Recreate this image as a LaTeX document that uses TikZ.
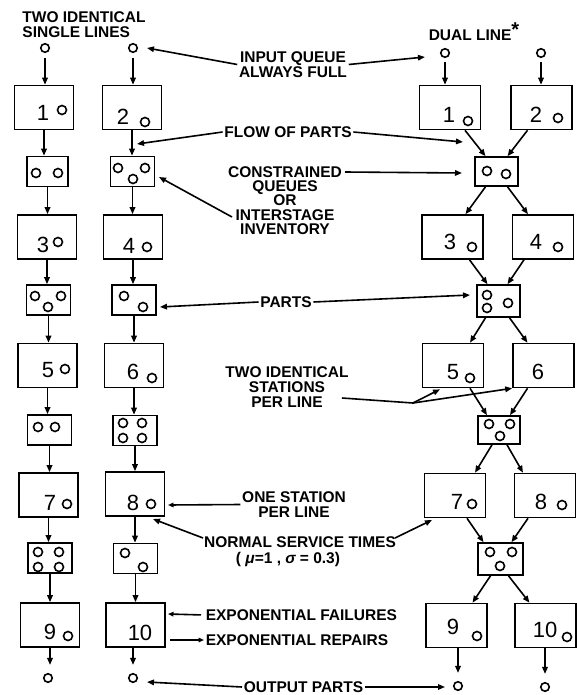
\documentclass[tikz,border=0pt]{standalone}
\usepackage{fontspec}
\setmainfont{Liberation Sans}
\usetikzlibrary{arrows.meta,calc}
\begin{document}
\begin{tikzpicture}[x=1pt,y=-1pt,line width=1.6pt,
  box/.style={draw,minimum width=59pt,minimum height=44pt,inner sep=0},
  dbox/.style={box,minimum width=61pt},
  que/.style={draw,minimum width=44pt,minimum height=30pt,inner sep=0},
  pc/.style={circle,draw,minimum size=8.5pt,inner sep=0},
  arr/.style={-{Triangle[length=7pt,width=5.5pt]}},
  sarr/.style={-{Triangle[length=5.5pt,width=4.5pt]}},
  lab/.style={font=\bfseries\fontsize{15.5}{15}\selectfont,align=center,inner sep=1pt},
  num/.style={font=\fontsize{22}{22}\selectfont,inner sep=0}]
\useasboundingbox (0,0) rectangle (577,695);

% ---------- single lines: stations ----------
\node[box] (s1) at (44,107.5) {};
\node[box] (s2) at (132,107.5) {};
\node[box] (s3) at (47,237) {};
\node[box] (s4) at (133,237) {};
\node[box] (s5) at (47.5,365.5) {};
\node[box] (s6) at (134,365.5) {};
\node[box] (s7) at (48.5,495) {};
\node[box] (s8) at (135,494) {};
\node[box] (s9) at (50,625) {};
\node[box] (s10) at (135.5,625) {};
% queues
\node[que,minimum width=41pt] (sq1) at (47.5,171.5) {};
\node[que] (sq2) at (132.5,171.5) {};
\node[que] (sq3) at (48.5,300) {};
\node[que] (sq4) at (134,300) {};
\node[que] (sq5) at (49.5,430) {};
\node[que] (sq6) at (135,430.5) {};
\node[que] (sq7) at (50,558) {};
\node[que] (sq8) at (135.5,558.5) {};
% inputs / outputs
\node[pc] (in1) at (45,48) {};
\node[pc] (in2) at (133,48) {};
\node[pc] (out1) at (48,678) {};
\node[pc] (out2) at (133,678) {};

% ---------- dual line ----------
\node[dbox] (d1) at (450,107.5) {};
\node[dbox] (d2) at (541.5,107.5) {};
\node[dbox] (d3) at (452.5,237) {};
\node[dbox] (d4) at (543,237) {};
\node[dbox] (d5) at (453,365.5) {};
\node[dbox] (d6) at (543.5,365.5) {};
\node[dbox] (d7) at (455,495.5) {};
\node[dbox] (d8) at (545,495.5) {};
\node[dbox] (d9) at (456.5,625.5) {};
\node[dbox] (d10) at (545.5,625.5) {};
\node[que,minimum width=43pt,minimum height=29pt] (dq1) at (496.5,171.5) {};
\node[que,minimum width=43pt,minimum height=32pt] (dq2) at (498.5,301) {};
\node[que,minimum width=42pt,minimum height=28pt] (dq3) at (499,430) {};
\node[que,minimum width=45pt,minimum height=32pt] (dq4) at (500.5,559) {};
\node[pc] (din1) at (445,53) {};
\node[pc] (din2) at (541,53) {};
\node[pc] (dout1) at (458,686) {};
\node[pc] (dout2) at (545,687) {};

% ---------- numbers and parts in stations ----------
\foreach \t/\x/\y in {1/43/113,3/43/245,5/48/370,7/50/503,9/50/632,
  2/123/117,4/129/246,6/133/372,8/133/503,10/140/633,
  1/449/115,2/536/115,3/450/242,4/536/242,5/453/372,6/538/372,
  7/457/502,8/541/502,9/453/627,10/545/630}
  \node[num] at (\x,\y) {\t};
\foreach \x/\y in {62/110,58/242,65/369,67/504,68/636,
  145/122,147/247,152/378,151/504,
  468/121,558/118,472/247,558/247,470/378,472/504,562/505,477/636,567/637,
  36/173,58/173, 118/168,145/168,133/179,
  35/296,61/296,48/307, 124/296,143/307,
  38/427,55/427, 123/423,142/423,123/438,142/438,
  38/552,59/552,38/567,59/567, 125/553,143/567,
  487/171,506/174, 487/295,487/308,508/303,
  489/424,510/424,500/436, 490/552,512/552,500/566}
  \draw (\x,\y) circle[radius=4.5pt];

% ---------- single line flow ----------
\draw[arr,shorten <=5pt] (in1) -- (in1 |- s1.north);
\draw[arr,shorten <=5pt] (in2) -- (in2 |- s2.north);
\foreach \a/\b in {s1/sq1,sq1/s3,s3/sq3,sq3/s5,s5/sq5,sq5/s7,s7/sq7,sq7/s9,
                   s2/sq2,sq2/s4,s4/sq4,sq4/s6,s6/sq6,sq6/s8,s8/sq8,sq8/s10}
  \draw[arr] (\a.south) -- (\a.south |- \b.north);
\draw[arr,shorten >=8pt] (s9.south) -- (s9.south |- out1.north);
\draw[arr,shorten >=8pt] (s10.south -| out2) -- (out2.north);

% ---------- dual line flow ----------
\draw[arr,shorten <=4pt] (din1) -- (din1 |- d1.north);
\draw[arr,shorten <=4pt] (din2) -- (din2 |- d2.north);
\draw[arr] ($(d1.south)+(15,0)$) -- ($(dq1.north)+(-11,0)$);
\draw[arr] ($(d2.south)+(-14,0)$) -- ($(dq1.north)+(11,0)$);
\draw[arr] ($(dq1.south)+(-11,0)$) -- ($(d3.north)+(13,0)$);
\draw[arr] ($(dq1.south)+(11,0)$) -- ($(d4.north)+(-15,0)$);
\draw[arr] ($(d3.south)+(17,0)$) -- ($(dq2.north)+(-11,0)$);
\draw[arr] ($(d4.south)+(-19,0)$) -- ($(dq2.north)+(9,0)$);
\draw[arr] ($(dq2.south)+(-13,0)$) -- ($(d5.north)+(17,0)$);
\draw[arr] ($(dq2.south)+(11,0)$) -- ($(d6.north)+(-16,0)$);
\draw[arr] ($(d5.south)+(17,0)$) -- ($(dq3.north)+(-12,0)$);
\draw[arr] ($(d6.south)+(-16,0)$) -- ($(dq3.north)+(11,0)$);
\draw[arr] ($(dq3.south)+(-7,0)$) -- ($(d7.north)+(20,0)$);
\draw[arr] ($(dq3.south)+(8,0)$) -- ($(d8.north)+(-22,0)$);
\draw[arr] ($(d7.south)+(12,0)$) -- ($(dq4.north)+(-17,0)$);
\draw[arr] ($(d8.south)+(-17,0)$) -- ($(dq4.north)+(11,0)$);
\draw[arr] ($(dq4.south)+(-10,0)$) -- ($(d9.north)+(16,0)$);
\draw[arr] ($(dq4.south)+(8,0)$) -- ($(d10.north)+(-16,0)$);
\draw[arr,shorten >=8pt] (dout1 |- d9.south) -- (dout1.north);
\draw[arr,shorten >=8pt] (dout2 |- d10.south) -- (dout2.north);

% ---------- labels ----------
\node[lab,align=left] (title) at (84,24.5) {TWO IDENTICAL\\SINGLE LINES};
\node[lab] (dual) at (474,32) {DUAL LINE\raisebox{4pt}{\fontsize{20}{20}\selectfont *}};

\node[lab] (iq) at (293,64.5) {INPUT QUEUE\\ALWAYS FULL};
\coordinate (iqL) at (147,48);
\coordinate (iqR) at (425,57);
\draw[arr] (iq.west) -- (iqL);
\draw[arr] (iq.east) -- (iqR);

\node[lab] (fop) at (288,132) {FLOW OF PARTS};
\coordinate (fopL) at (137,144);
\coordinate (fopR) at (463,142);
\draw[arr] (fop.west) -- (fopL);
\draw[arr] (fop.east) -- (fopR);

\node[lab,font=\bfseries\fontsize{15.5}{14.3}\selectfont] (cq) at (285,200.5) {CONSTRAINED\\QUEUES\\OR\\INTERSTAGE\\INVENTORY};
\coordinate (cqA) at (345,172);
\coordinate (cqAt) at (462,173);
\coordinate (cqB) at (232,217);
\coordinate (cqBt) at (159,177);
\draw[arr] (cqA) -- (cqAt);
\draw[arr] (cqB) -- (cqBt);

\node[lab] (pt) at (286,302) {PARTS};
\coordinate (ptL) at (160,307);
\coordinate (ptR) at (470,295);
\draw[arr] (pt.west) -- (ptL);
\draw[arr] (pt.east) -- (ptR);

\node[lab] (tis) at (287,387) {TWO IDENTICAL\\STATIONS\\PER LINE};
\coordinate (tisA) at (342,398);
\coordinate (tisJ) at (413,403);
\draw (tisA) -- (tisJ);
\draw[arr] (tisJ) -- ($(d5.south)+(-13,1)$);
\draw[arr] (tisJ) -- (d6.south west);

\node[lab] (osp) at (294,504.5) {ONE STATION\\PER LINE};
\coordinate (ospT) at (168,505);
\draw[sarr] (osp.west) -- (ospT);

\node[lab,inner sep=0pt] (nst) at (300,542.5) {NORMAL SERVICE TIMES};
\node[lab,inner sep=0pt] (nsp) at (288,559) {( {\itshape μ}=1 , {\itshape σ} = 0.3)};
\coordinate (nstA) at (203,538);
\coordinate (nstAt) at (153,519);
\coordinate (nstB) at (395,538);
\coordinate (nstBt) at (432,520);
\draw[arr] (nstA) -- (nstAt);
\draw[arr] (nstB) -- (nstBt);

\node[lab,anchor=west] (ef) at (204,615) {EXPONENTIAL FAILURES};
\coordinate (efT) at (168,614);
\draw[sarr,shorten <=3pt] (ef.west) -- (efT);
\node[lab,anchor=west] (er) at (204,640) {EXPONENTIAL REPAIRS};
\coordinate (erS) at (170,640);
\draw[sarr] (erS) -- (er.west);

\node[lab] (op) at (303.5,687) {OUTPUT PARTS};
\coordinate (opL) at (147,682);
\coordinate (opR) at (445,687);
\draw[arr] (op.west) -- (opL);
\draw[arr] (op.east) -- (opR);
\end{tikzpicture}
\end{document}
